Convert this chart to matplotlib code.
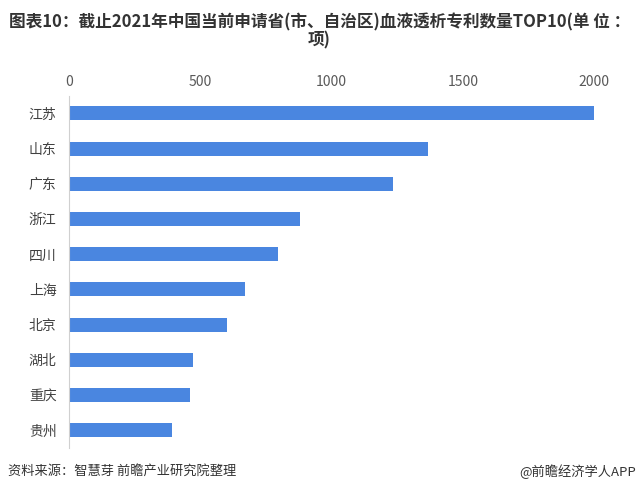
import matplotlib.pyplot as plt

plt.rcParams['font.family'] = ['Noto Sans CJK SC', 'DejaVu Sans']

# 省份及专利数量（项）
provinces = ['江苏', '山东', '广东', '浙江', '四川', '上海', '北京', '湖北', '重庆', '贵州']
patents = [2000, 1368, 1234, 880, 796, 670, 602, 472, 461, 392]

fig = plt.figure(figsize=(6.39, 4.91), dpi=100)
ax = fig.add_axes([0.108, 0.088, 0.822, 0.717])

ax.barh(provinces, patents, height=0.4, color='#4a86e0')
ax.set_xlim(0, 2000)
ax.set_ylim(9.5, -0.5)

ax.xaxis.tick_top()
ax.set_xticks([0, 500, 1000, 1500, 2000])
ax.tick_params(axis='x', length=0, labelsize=10, labelcolor='#595959', pad=5)
ax.tick_params(axis='y', length=0, labelsize=10, labelcolor='#404040', pad=9)

for s in ['top', 'right', 'bottom']:
    ax.spines[s].set_visible(False)
ax.spines['left'].set_color('#d0d0d0')

fig.text(0.5, 0.955, '图表10：截止2021年中国当前申请省(市、自治区)血液透析专利数量TOP10(单 位 ：',
         ha='center', va='center', fontsize=12, fontweight='bold', color='#333333')
fig.text(0.5, 0.918, '项)', ha='center', va='center', fontsize=12, fontweight='bold', color='#333333')

fig.text(0.012, 0.04, '资料来源：智慧芽 前瞻产业研究院整理', ha='left', va='center', fontsize=9.5, color='#333333')
fig.text(0.995, 0.04, '@前瞻经济学人APP', ha='right', va='center', fontsize=9.5, color='#333333')

fig.savefig('out.png', dpi=100)
